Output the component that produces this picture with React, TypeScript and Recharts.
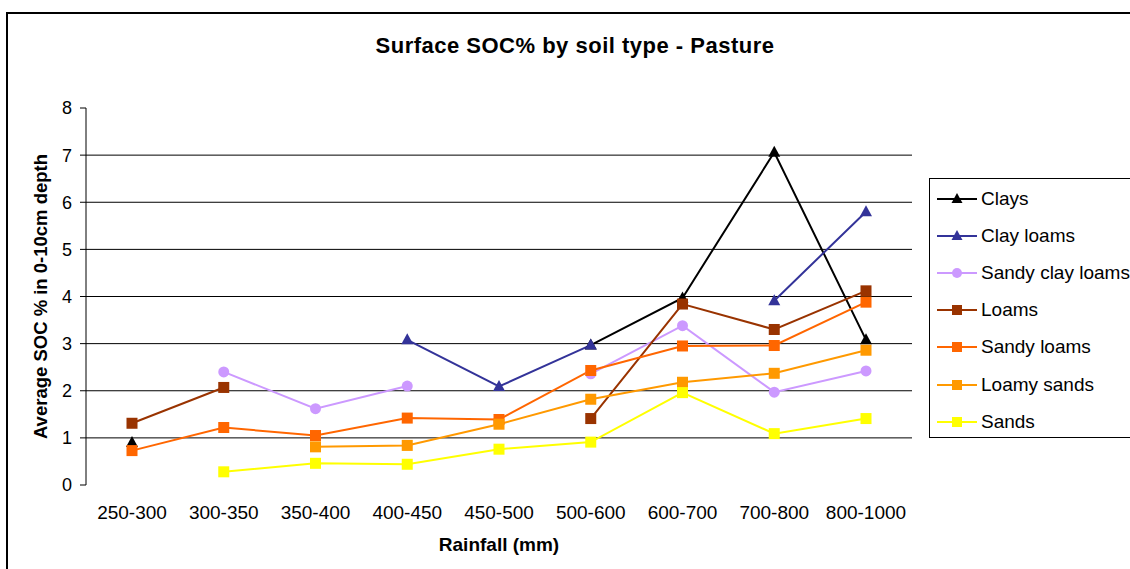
import { LineChart, Line, XAxis, YAxis, CartesianGrid, Legend } from "recharts";

const categories = [
  "250-300",
  "300-350",
  "350-400",
  "400-450",
  "450-500",
  "500-600",
  "600-700",
  "700-800",
  "800-1000",
];

const clays = [0.9, null, null, null, null, 2.97, 3.97, 7.06, 3.08];
const clayLoams = [null, null, null, 3.08, 2.09, 2.97, null, 3.91, 5.8];
const sandyClayLoams = [null, 2.4, 1.62, 2.1, null, 2.36, 3.38, 1.97, 2.42];
const loams = [1.31, 2.07, null, null, null, 1.41, 3.84, 3.3, 4.12];
const sandyLoams = [0.73, 1.22, 1.05, 1.42, 1.39, 2.43, 2.95, 2.96, 3.88];
const loamySands = [null, null, 0.81, 0.84, 1.29, 1.82, 2.18, 2.37, 2.86];
const sands = [null, 0.28, 0.46, 0.44, 0.76, 0.91, 1.96, 1.09, 1.41];

const yTicks = [0, 1, 2, 3, 4, 5, 6, 7, 8];
const boundaryTicks = [0, 1, 2, 3, 4, 5, 6, 7, 8, 9];

type Shape = "triangle" | "circle" | "square";

const series: { name: string; values: (number | null)[]; color: string; shape: Shape }[] = [
  { name: "Clays", values: clays, color: "#000000", shape: "triangle" },
  { name: "Clay loams", values: clayLoams, color: "#333399", shape: "triangle" },
  { name: "Sandy clay loams", values: sandyClayLoams, color: "#CC99FF", shape: "circle" },
  { name: "Loams", values: loams, color: "#993300", shape: "square" },
  { name: "Sandy loams", values: sandyLoams, color: "#FF6600", shape: "square" },
  { name: "Loamy sands", values: loamySands, color: "#FF9900", shape: "square" },
  { name: "Sands", values: sands, color: "#FFFF00", shape: "square" },
];

const data = categories.map((cat, i) => {
  const row: Record<string, string | number | null> = { cat };
  series.forEach((s) => {
    row[s.name] = s.values[i];
  });
  return row;
});

const font = "'Liberation Sans', Arial, sans-serif";

function Marker({ shape, color, cx, cy, size }: { shape: Shape; color: string; cx: number; cy: number; size: number }) {
  const h = size / 2;
  if (shape === "triangle") {
    return <polygon points={`${cx},${cy - h - 1} ${cx - h - 0.5},${cy + h - 1} ${cx + h + 0.5},${cy + h - 1}`} fill={color} />;
  }
  if (shape === "circle") {
    return <circle cx={cx} cy={cy} r={h} fill={color} />;
  }
  return <rect x={cx - h} y={cy - h} width={size} height={size} fill={color} />;
}

function LegendBox() {
  return (
    <div
      style={{
        border: "1px solid #000",
        height: 260,
        boxSizing: "border-box",
        paddingTop: 1,
        background: "#fff",
        fontFamily: font,
        fontSize: 19,
        color: "#000",
      }}
    >
      {series.map((s) => (
        <div key={s.name} style={{ display: "flex", alignItems: "center", height: 37.2, whiteSpace: "nowrap" }}>
          <svg width={44} height={14} style={{ marginLeft: 7, flex: "none" }}>
            <line x1={0} y1={7} x2={40} y2={7} stroke={s.color} strokeWidth={2} />
            <Marker shape={s.shape} color={s.color} cx={20} cy={7} size={10} />
          </svg>
          <span>{s.name}</span>
        </div>
      ))}
    </div>
  );
}

export default function App() {
  return (
    <div
      style={{
        position: "absolute",
        left: 0,
        top: 0,
        width: 1130,
        height: 569,
        overflow: "hidden",
        background: "#fff",
        fontFamily: font,
      }}
    >
      <div
        style={{
          position: "absolute",
          left: 6,
          top: 12,
          width: 1200,
          height: 700,
          border: "2px solid #000",
        }}
      />
      <div
        style={{
          position: "absolute",
          left: 0,
          top: 35,
          width: 1150,
          textAlign: "center",
          fontSize: 22,
          lineHeight: "22px",
          fontWeight: "bold",
          letterSpacing: 0.5,
        }}
      >
        Surface SOC% by soil type - Pasture
      </div>
      <div style={{ position: "absolute", left: 0, top: 0 }}>
        <LineChart width={1130} height={569} data={data} margin={{ top: 108, right: 218, bottom: 14, left: 26 }}>
          <CartesianGrid horizontal vertical={false} stroke="#000" horizontalValues={[1, 2, 3, 4, 5, 6, 7]} />
          <XAxis
            xAxisId="bounds"
            type="number"
            domain={[0, 9]}
            ticks={boundaryTicks}
            interval={0}
            height={0}
            tickSize={6}
            tick={() => <g />}
            axisLine={{ stroke: "#000" }}
            tickLine={{ stroke: "#000" }}
          />
          <XAxis
            dataKey="cat"
            height={70}
            interval={0}
            padding={{ left: 46, right: 46 }}
            axisLine={false}
            tickLine={false}
            tickSize={6}
            tickMargin={15}
            tick={{ fill: "#000", fontSize: 19, fontFamily: font }}
            label={{
              value: "Rainfall (mm)",
              position: "insideBottom",
              offset: 4,
              style: { fill: "#000", fontSize: 19, fontWeight: "bold", fontFamily: font },
            }}
          />
          <XAxis xAxisId="top" orientation="top" dataKey="cat" height={0} tick={false} tickLine={false} axisLine={{ stroke: "#808080" }} />
          <YAxis
            domain={[0, 8]}
            ticks={yTicks}
            interval={0}
            width={60}
            tickSize={6}
            tickMargin={8}
            axisLine={{ stroke: "#000" }}
            tickLine={{ stroke: "#000" }}
            tick={{ fill: "#000", fontSize: 18, fontFamily: font }}
            label={{
              value: "Average SOC % in 0-10cm depth",
              angle: -90,
              position: "insideLeft",
              offset: 14,
              style: { fill: "#000", fontSize: 18.5, fontWeight: "bold", fontFamily: font, textAnchor: "middle" },
            }}
          />
          <YAxis yAxisId="right" orientation="right" domain={[0, 8]} width={0} tick={false} tickLine={false} axisLine={{ stroke: "#808080" }} />
          <Legend
            layout="vertical"
            align="center"
            verticalAlign="middle"
            wrapperStyle={{ left: 929, top: 178, width: 230, height: 260 }}
            content={() => <LegendBox />}
          />
          {series.map((s) => (
            <Line
              key={s.name}
              dataKey={s.name}
              name={s.name}
              stroke={s.color}
              strokeWidth={2}
              isAnimationActive={false}
              connectNulls={false}
              dot={(p: any) =>
                p.cx == null || p.cy == null || p.value == null ? (
                  <g key={`d-${s.name}-${p.index}`} />
                ) : (
                  <Marker key={`d-${s.name}-${p.index}`} shape={s.shape} color={s.color} cx={p.cx} cy={p.cy} size={11} />
                )
              }
              activeDot={false}
            />
          ))}
        </LineChart>
      </div>
    </div>
  );
}
